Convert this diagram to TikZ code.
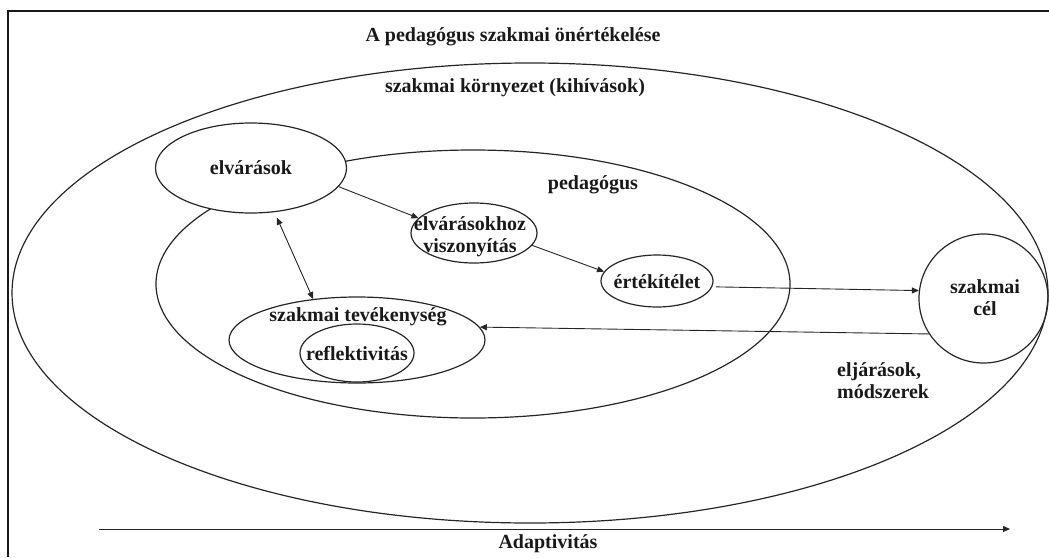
\documentclass[tikz,border=0pt]{standalone}
\usepackage{fontspec}
\setmainfont{Liberation Serif}
\usetikzlibrary{shapes.geometric,arrows.meta}
\begin{document}
\begin{tikzpicture}[x=1pt,y=-1pt,
  oval/.style={ellipse,draw=black!85,line width=1.2pt,inner sep=0pt},
  whiteoval/.style={oval,fill=white},
  lbl/.style={font=\bfseries\fontsize{20}{22}\selectfont,inner sep=0pt,align=center,text=black!90},
  arr/.style={line width=0.9pt,draw=black!85,-{Triangle[length=7pt,width=6pt]}},
  frameline/.style={line width=2.4pt,draw=black!90}]
\useasboundingbox (0,0) rectangle (1049,557);

% frame (cut at the right and bottom edges)
\coordinate (fbl) at (8,557);
\coordinate (ftl) at (8,11);
\coordinate (ftr) at (1049,11);
\draw[frameline] (fbl) -- (ftl) -- (ftr);

% title
\node[lbl] (title) at (513,37) {A pedagógus szakmai önértékelése};

% environment and teacher
\node[oval,minimum width=1036pt,minimum height=460pt] (env) at (530,293) {};
\node[lbl] (envt) at (515,88) {szakmai környezet (kihívások)};
\node[oval,minimum width=634pt,minimum height=268pt] (ped) at (473,284) {};
\node[lbl] (pedt) at (593,185) {pedagógus};

% inner elements
\node[whiteoval,minimum width=191pt,minimum height=90pt] (elv) at (251,168) {};
\node[lbl] (elvt) at (251,168) {elvárások};

\node[oval,minimum width=126pt,minimum height=60pt] (exp) at (474,233) {};
\node[lbl] (expt) at (470,237) {elvárásokhoz\\viszonyítás};

\node[oval,minimum width=112pt,minimum height=52pt] (ert) at (657,281) {};
\node[lbl] (ertt) at (657,282) {értékítélet};

\node[oval,minimum width=129pt,minimum height=129pt] (szc) at (983.5,298.5) {};
\node[lbl] (szct) at (985,298) {szakmai\\cél};

\node[oval,minimum width=256pt,minimum height=86pt] (tev) at (357,340) {};
\node[lbl] (tevt) at (358,317) {szakmai tevékenység};

\node[oval,minimum width=114pt,minimum height=58pt] (ref) at (357,353) {};
\node[lbl] (reft) at (357,354) {reflektivitás};

\node[lbl,anchor=west,align=left] (elj) at (837,381) {eljárások,\\módszerek};

% connectors
\draw[arr] (elv.-12) -- (exp.165);
\draw[arr] (exp.-12) -- (ert.170);
\draw[arr,shorten <=4pt] (ert.-6) -- (szc.173);
\draw[arr] (szc.213) -- (tev.6);
\draw[arr,{Triangle[length=7pt,width=6pt]}-{Triangle[length=7pt,width=6pt]},shorten <=6pt] (elv.-62) -- (tev.137);

% adaptivity axis
\coordinate (ax0) at (99,529);
\coordinate (ax1) at (1010,529);
\draw[arr] (ax0) -- (ax1);
\node[lbl] (adt) at (548,544) {Adaptivitás};
\end{tikzpicture}
\end{document}
